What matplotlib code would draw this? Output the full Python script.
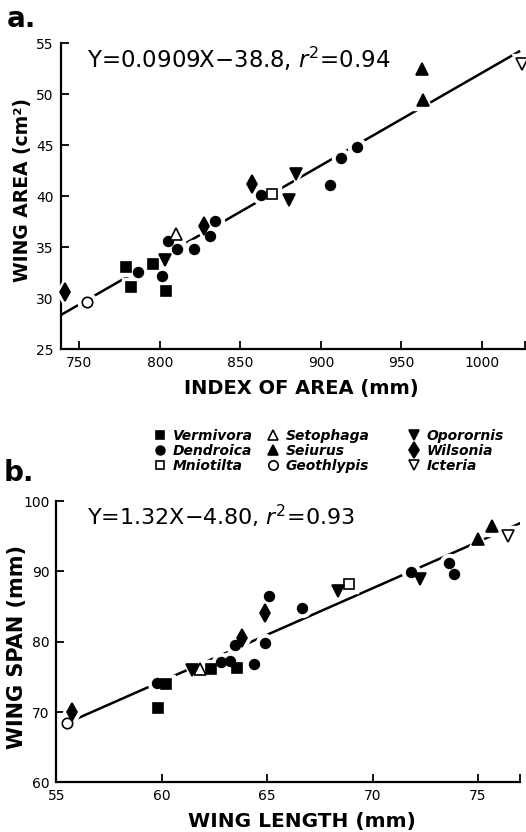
import matplotlib.pyplot as plt
from matplotlib.lines import Line2D
import numpy as np

plt.rcParams['font.family'] = ['DejaVu Sans']

# genus -> (marker, filled)
genera = ['Vermivora', 'Dendroica', 'Mniotilta', 'Setophaga', 'Seiurus',
          'Geothlypis', 'Oporornis', 'Wilsonia', 'Icteria']
genus_marker = ['s', 'o', 's', '^', '^', 'o', 'v', 'd', 'v']
genus_filled = [True, True, False, False, True, False, True, True, False]
genus_size = [6.5, 7, 7, 8, 8, 7.5, 8, 9, 8]

# panel a: index of area (mm) vs wing area (cm2)
area_index = [779, 782, 795.6, 803.6,
              786.2, 801.1, 804.9, 810.5, 821.4, 831.1, 834.2, 862.8, 905.6, 912.3, 922.6,
              869.4, 809.8, 962.5, 963.2, 755,
              803.2, 884.3, 880.2, 741.1, 827.6, 857, 1024.6]
area_wing = [33.0, 31.1, 33.3, 30.7,
             32.6, 32.2, 35.6, 34.8, 34.8, 36.1, 37.6, 40.1, 41.1, 43.7, 44.8,
             40.2, 36.3, 52.5, 49.4, 29.6,
             33.7, 42.2, 39.6, 30.6, 37.1, 41.2, 53.0]
area_genus = ['Vermivora'] * 4 + ['Dendroica'] * 11 + \
             ['Mniotilta', 'Setophaga', 'Seiurus', 'Seiurus', 'Geothlypis'] + \
             ['Oporornis'] * 3 + ['Wilsonia'] * 3 + ['Icteria']

# panel b: wing length (mm) vs wing span (mm)
span_length = [60.22, 59.83, 62.31, 63.57,
               59.75, 62.83, 63.22, 64.37, 63.49, 64.9, 65.07, 66.65, 71.85, 73.65, 73.89,
               68.88, 61.83, 74.99, 75.67, 55.51,
               61.45, 68.37, 72.23, 55.72, 63.82, 64.91, 76.41]
span_wing = [74.0, 70.55, 76.1, 76.3,
             74.1, 77.1, 77.2, 76.85, 79.6, 79.8, 86.5, 84.85, 89.96, 91.15, 89.7,
             88.2, 76.2, 94.55, 96.5, 68.4,
             76.0, 87.2, 88.9, 70.07, 80.6, 84.05, 95.0]
span_genus = area_genus

# regression fits
fit_a = (0.0909, -38.8)
fit_a_range = [738.5, 1023]
fit_b = (1.32, -4.80)
fit_b_range = [55.9, 77.2]

xticks_a = [750, 800, 850, 900, 950, 1000]
yticks_a = [25, 30, 35, 40, 45, 50, 55]
xticks_b = [55, 60, 65, 70, 75]
yticks_b = [60, 70, 80, 90, 100]


def style_axes(ax, xlim, ylim, xticks, yticks):
    ax.set_xlim(xlim)
    ax.set_ylim(ylim)
    ax.set_xticks(xticks)
    ax.set_yticks(yticks)
    ax.set_xticks([xlim[1]], minor=True)
    for s in ['top', 'right']:
        ax.spines[s].set_visible(False)
    for s in ['left', 'bottom']:
        ax.spines[s].set_linewidth(1.6)
    ax.tick_params(which='both', direction='in', length=6, width=1.3, labelsize=10, pad=5)


def draw_points(ax, xs, ys, gens, fit, fit_range):
    fx = np.array(fit_range)
    ax.plot(fx, fit[0] * fx + fit[1], color='black', lw=1.8, zorder=2)
    xs = np.array(xs)
    ys = np.array(ys)
    gens = np.array(gens)
    # white halo under each marker, this breaks the line like the original
    for g, m, sz in zip(genera, genus_marker, genus_size):
        sel = gens == g
        ax.plot(xs[sel], ys[sel], ls='none', marker=m, ms=sz + 6, mfc='white',
                mec='white', zorder=3, clip_on=False)
    for g, m, f, sz in zip(genera, genus_marker, genus_filled, genus_size):
        sel = gens == g
        ax.plot(xs[sel], ys[sel], ls='none', marker=m, ms=sz,
                mfc='black' if f else 'white', mec='black', mew=1.2,
                zorder=4, clip_on=False)


fig = plt.figure(figsize=(5.26, 8.32), dpi=100)

ax1 = fig.add_axes([0.1154, 0.5805, 0.8827, 0.3675])
draw_points(ax1, area_index, area_wing, area_genus, fit_a, fit_a_range)
style_axes(ax1, (738.5, 1026.7), (25, 55), xticks_a, yticks_a)
ax1.text(0.056, 0.919, 'Y=0.0909X\u221238.8, $r^2$=0.94', transform=ax1.transAxes,
         fontsize=16.5, va='baseline', ha='left')

ax2 = fig.add_axes([0.1074, 0.0595, 0.8812, 0.3383])
draw_points(ax2, span_length, span_wing, span_genus, fit_b, fit_b_range)
style_axes(ax2, (55, 77), (60, 100), xticks_b, yticks_b)
ax2.text(0.065, 0.915, 'Y=1.32X\u22124.80, $r^2$=0.93', transform=ax2.transAxes,
         fontsize=16, va='baseline', ha='left')

# axis labels
fig.text(0.043, 0.772, 'WING AREA (cm\u00b2)', rotation=90, ha='center', va='center',
         fontsize=13.5, weight='bold')
fig.text(0.572, 0.533, 'INDEX OF AREA (mm)', ha='center', va='center',
         fontsize=14, weight='bold')
fig.text(0.033, 0.222, 'WING SPAN (mm)', rotation=90, ha='center', va='center',
         fontsize=15, weight='bold')
fig.text(0.574, 0.0126, 'WING LENGTH (mm)', ha='center', va='center',
         fontsize=14.5, weight='bold')

# panel letters
fig.text(0.012, 0.9675, 'a.', fontsize=20, weight='bold')
fig.text(0.006, 0.4219, 'b.', fontsize=20, weight='bold')

# legend, three columns
handles = []
for m, f, sz in zip(genus_marker, genus_filled, genus_size):
    handles.append(Line2D([], [], ls='none', marker=m, ms=sz * 0.9,
                          mfc='black' if f else 'white', mec='black', mew=1.2))
col_left = [153 / 526, 266 / 526, 407 / 526]
for c in range(3):
    fig.legend(handles[c * 3:c * 3 + 3], genera[c * 3:c * 3 + 3],
               loc='center left', bbox_to_anchor=(col_left[c], 0.458),
               frameon=False, borderpad=0, borderaxespad=0, handlelength=1.0,
               handletextpad=0.4, labelspacing=0.1,
               prop={'style': 'italic', 'weight': 'bold', 'size': 10})

fig.savefig('out.png', dpi=100)
